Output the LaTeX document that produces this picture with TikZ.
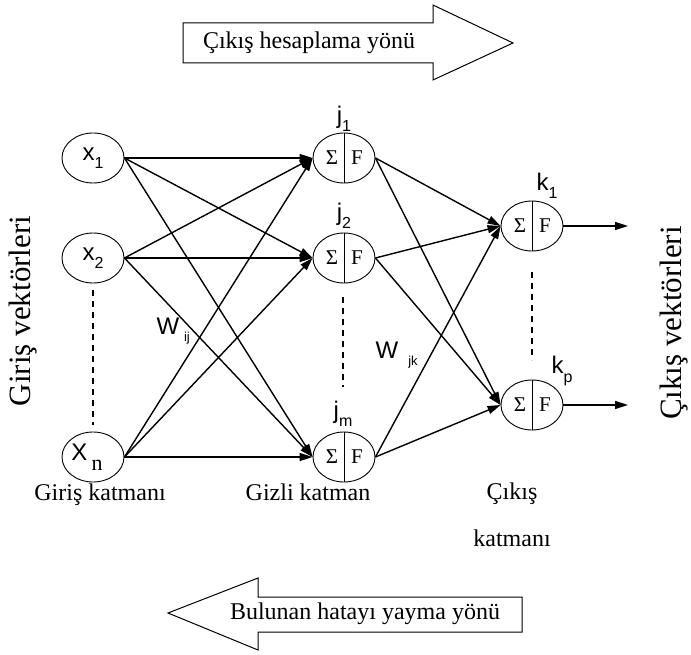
\documentclass[tikz,border=0pt]{standalone}
\usepackage{fontspec}
\setmainfont{Liberation Serif}
\setsansfont{Liberation Sans}
\usetikzlibrary{arrows.meta,shapes.geometric}
% lowered small index used in the sans labels
\newcommand{\lowidx}[1]{\raisebox{-0.35em}{\fontsize{16}{16}\selectfont #1}}
\begin{document}
\begin{tikzpicture}[x=1pt,y=-1pt,
  cell/.style={draw,ellipse,minimum width=62pt,minimum height=50pt,inner sep=0pt,line width=0.9pt},
  link/.style={line width=1.4pt,-{Triangle[length=13pt,width=8pt]}},
  dots/.style={line width=1.3pt,dash pattern=on 6pt off 5pt},
  serif/.style={font=\fontsize{24}{28}\selectfont},
  inner/.style={font=\fontsize{21}{24}\selectfont,inner sep=0pt},
  sans/.style={font=\sffamily\fontsize{24}{27}\selectfont},
  side/.style={font=\fontsize{31}{35}\selectfont,rotate=90},
  bigarrow/.style={draw,line width=1pt,fill=white}]
\useasboundingbox (0,0) rectangle (691,655);

% direction arrows
\draw[bigarrow] (183,23) -- (433,23) -- (433,5) -- (513,43) -- (433,80) -- (433,63) -- (183,63) -- cycle;
\node[serif] (fwd) at (309,43) {Çıkış hesaplama yönü};
\draw[bigarrow] (522,597) -- (258,597) -- (258,578) -- (168,613) -- (258,650) -- (258,632) -- (522,632) -- cycle;
\node[serif] (bwd) at (365,614) {Bulunan hatayı yayma yönü};

% input layer
\node[cell,sans] (x1) at (93,158) {x\lowidx{1}};
\node[cell,sans] (x2) at (93,258) {x\lowidx{2}};
\node[cell] (xn) at (93,457) {};
\node[sans,inner sep=0pt] (xnl) at (87,457) {X\,\raisebox{-0.4em}{\rmfamily\fontsize{22}{22}\selectfont n}};
\draw[dots] (93,290) -- (93,425);

% hidden and output layers
\foreach \n/\x/\y in {j1/344/158, j2/344/258, jm/344/457, k1/532/226, kp/532/405} {
  \node[cell] (\n) at (\x,\y) {};
  \draw[line width=0.9pt] (\n.north) -- (\n.south);
  \node[inner] (\n s) at ([xshift=-12pt]\n.center) {Σ};
  \node[inner] (\n f) at ([xshift=13pt]\n.center) {F};
}
\node[sans] (lj1) at (344,119) {j\lowidx{1}};
\node[sans] (lj2) at (344,216) {j\lowidx{2}};
\node[sans] (ljm) at (343,414) {j\lowidx{m}};
\node[sans] (lk1) at (547,186) {k\lowidx{1}};
\node[sans] (lkp) at (562,371) {k\lowidx{p}};
\draw[dots] (343,297) -- (343,387);
\draw[dots] (532,272) -- (532,360);

% weights
\node[sans] (wij) at (168,326) {W};
\node[font=\sffamily\fontsize{13}{15}\selectfont] (ij) at (187,338) {ij};
\node[sans] (wjk) at (387,350) {W};
\node[font=\sffamily\fontsize{13}{15}\selectfont] (jk) at (413,362) {jk};

% connections
\foreach \a in {x1,x2,xn}
  \foreach \b in {j1,j2,jm}
    \draw[link] (\a.east) -- (\b.west);
\foreach \a in {j1,j2,jm}
  \foreach \b in {k1,kp}
    \draw[link] (\a.east) -- (\b.west);
\coordinate (o1) at (628,226);
\coordinate (op) at (628,405);
\draw[link] (k1.east) -- (o1);
\draw[link] (kp.east) -- (op);

% layer names
\node[serif] (lin) at (100,495) {Giriş katmanı};
\node[serif] (lhid) at (308,492) {Gizli katman};
\node[serif] (lout1) at (512,494) {Çıkış};
\node[serif] (lout2) at (512,538) {katmanı};
\node[side] (vin) at (23,311) {Giriş vektörleri};
\node[side] (vout) at (674,323) {Çıkış vektörleri};
\end{tikzpicture}
\end{document}
